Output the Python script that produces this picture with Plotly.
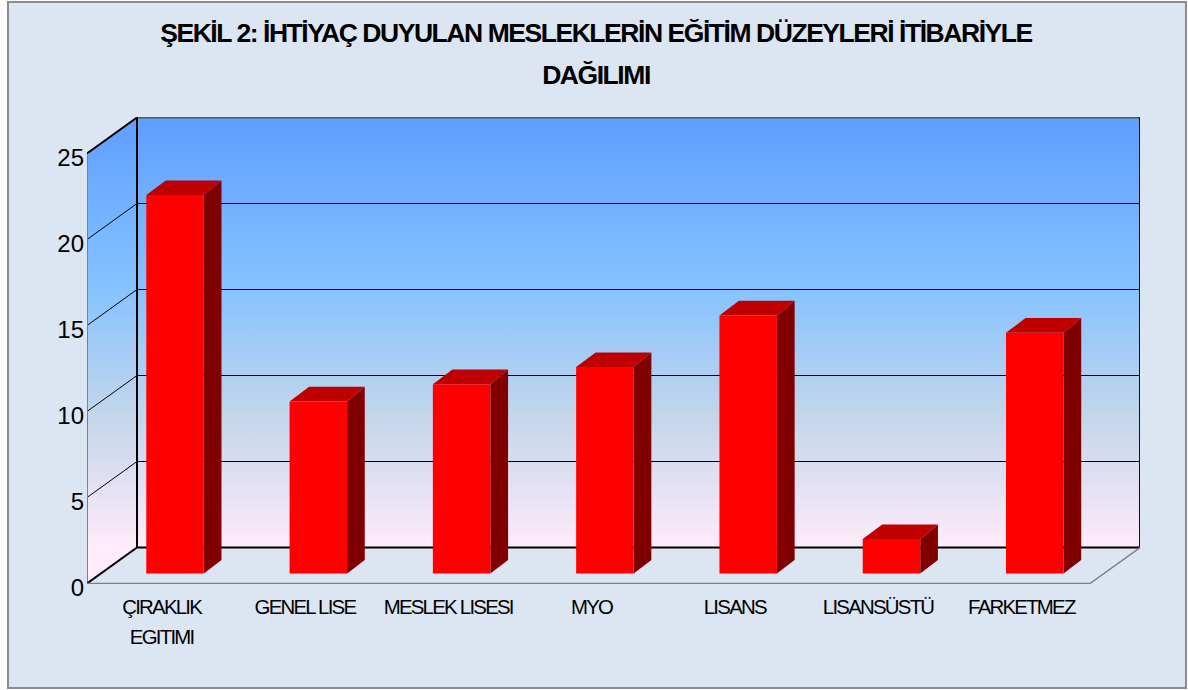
import plotly.graph_objects as go

TITLE_LINES = ["ŞEKİL 2: İHTİYAÇ DUYULAN MESLEKLERİN EĞİTİM DÜZEYLERİ İTİBARİYLE", "DAĞILIMI"]
categories = ["ÇIRAKLIK<br>EGITIMI", "GENEL LISE", "MESLEK LISESI", "MYO", "LISANS", "LISANSÜSTÜ", "FARKETMEZ"]
values = [22, 10, 11, 12, 15, 2, 14]
y_ticks = [0, 5, 10, 15, 20, 25]

W, H = 1188, 690
PX_L, PX_R, PX_T, PX_B = 87, 1140, 117, 584   # page pixels of the plot box
UX = (1090 - 87) / 7    # px per category
UY = 86 / 5             # px per value unit
Y0 = -0.5 / UY          # value axis starts half a pixel below zero for crisp lines
DX = 50 / UX            # wall depth
DY = 36 / UY
BAR_W = 57.5 / UX
BAR_SHIFT = 16.4 / UX
BASE = 10 / UY
BDX = 17.7 / UX         # bar depth
BDY = 13.5 / UY
TOP_DY = 14.7 / UY      # top face depth
TOP_LDX = 19.5 / UX

WALL = [[0, "#5E9EFF"], [0.39, "#85C2FF"], [0.70, "#C4D6EB"], [1, "#FFEBFA"]]
WALL_UP = [[1 - p, c] for p, c in reversed(WALL)]
XL, XR = -0.5, 6.5
YT = y_ticks[-1]
X_RANGE = [XL, XR + DX]
Y_RANGE = [Y0, Y0 + (PX_B - PX_T) / UY]

fig = go.Figure()

def poly(xs, ys, color=None, **kw):
    fig.add_trace(go.Scatter(x=xs, y=ys, mode="lines", line=dict(width=0), fill="toself",
                             fillcolor=color, hoverinfo="skip", showlegend=False, **kw))

def line(xs, ys, color, width):
    fig.add_trace(go.Scatter(x=xs, y=ys, mode="lines", line=dict(color=color, width=width),
                             hoverinfo="skip", showlegend=False))

# walls
poly([XL + DX, XR + DX, XR + DX, XL + DX], [DY, DY, YT + DY, YT + DY],
     fillgradient=dict(type="vertical", colorscale=WALL_UP, start=DY, stop=YT + DY))
poly([XL, XL + DX, XL + DX, XL], [0, DY, YT + DY, YT],
     fillgradient=dict(type="vertical", colorscale=WALL_UP, start=DY, stop=YT + DY))

# grid
for t in y_ticks[1:-1]:
    line([XL, XL + DX, XR + DX], [t, t + DY, t + DY], "#000000", 1)

# frame
line([XL + DX, XR + DX], [YT + DY, YT + DY], "#555555", 2)
line([XL, XL], [0, YT], "#808080", 2)
line([XL, XL + DX], [YT, YT + DY], "#000000", 2)
line([XL + DX, XL + DX], [DY, YT + DY], "#000000", 2)
line([XR + DX, XR + DX], [DY, YT + DY], "#111111", 2)
line([XL, XL + DX, XR + DX], [0, DY, DY], "#000000", 2)
line([XL, XR, XR + DX], [0, 0, DY], "#808080", 1.5)

# bars: side and top faces
xs = [i + BAR_SHIFT for i in range(len(values))]
for x, v in zip(xs, values):
    r, l = x + BAR_W / 2, x - BAR_W / 2
    top = BASE + v
    poly([r, r + BDX, r + BDX, r], [BASE, BASE + BDY, top + TOP_DY, top], "#800000")
    poly([l, r, r + BDX, l + TOP_LDX], [top, top, top + TOP_DY, top + TOP_DY], "#BF0000")
# bars: front faces, on an overlaid copy of the axes so they sit above the walls
fig.add_trace(go.Bar(x=xs, y=values, base=BASE, width=BAR_W, marker=dict(color="#FF0000", line=dict(width=0)),
                     hoverinfo="skip", showlegend=False, xaxis="x2", yaxis="y2"))

LABEL = "Liberation Sans, Arial, sans-serif"
plot_w, plot_h = PX_R - PX_L, PX_B - PX_T
fig.update_layout(
    width=W, height=H, autosize=False,
    margin=dict(l=PX_L, r=W - PX_R, t=PX_T, b=H - PX_B, pad=0),
    paper_bgcolor="#FFFFFF", plot_bgcolor="rgba(0,0,0,0)", barmode="overlay",
    shapes=[dict(type="rect", xref="paper", yref="paper", layer="below",
                 x0=(8 - PX_L) / plot_w, x1=(1186 - PX_L) / plot_w,
                 y0=(PX_B - 688) / plot_h, y1=(PX_B - 2) / plot_h,
                 fillcolor="#DCE6F2", line=dict(color="#8C8C8C", width=2))],
    title=dict(text="<b><span style='font-size:26.5px;letter-spacing:-1.45px'>" + TITLE_LINES[0] + "<br>" + TITLE_LINES[1] + "</span></b>",
               font=dict(family=LABEL, size=32, color="#000000"), x=596 / W, xanchor="center", xref="container",
               y=1 - 42 / H, yanchor="top"),
    xaxis=dict(range=X_RANGE, tickmode="array", tickvals=list(range(len(categories))),
               ticktext=["<span style='font-size:20.4px;letter-spacing:-1.75px'>" + c + "</span>" for c in categories],
               tickfont=dict(family=LABEL, size=23, color="#000000"), tickangle=0, ticks="", showgrid=False,
               zeroline=False, showline=False, ticklabelstandoff=6, ticklabelshift=3),
    yaxis=dict(range=Y_RANGE, tickmode="array", tickvals=y_ticks, ticktext=[str(t) for t in y_ticks],
               tickfont=dict(family=LABEL, size=24, color="#000000"),
               ticks="", showgrid=False, zeroline=False, showline=False, ticklabelstandoff=2, ticklabelshift=4),
    xaxis2=dict(range=X_RANGE, overlaying="x", visible=False),
    yaxis2=dict(range=Y_RANGE, overlaying="y", visible=False),
)
fig.write_html("out.html", config={"displayModeBar": False},
               post_script="document.body.style.margin='0';document.body.style.overflow='hidden';")
